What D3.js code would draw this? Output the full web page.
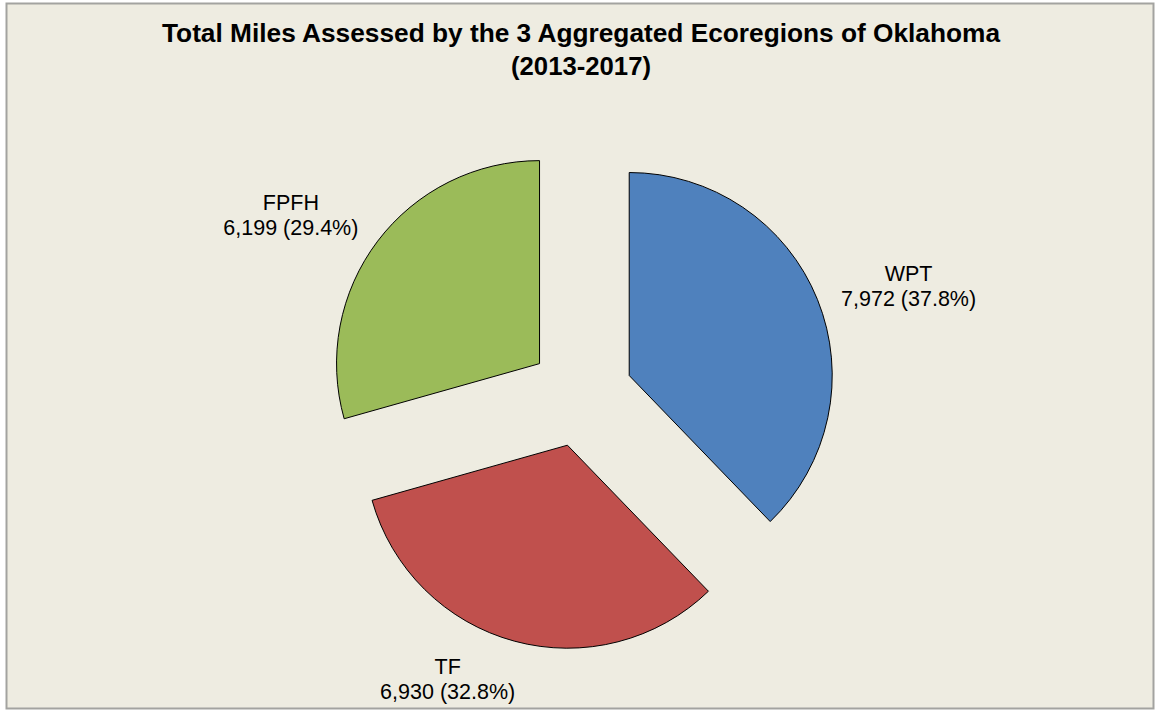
<!DOCTYPE html>
<html>
<head>
<meta charset="utf-8">
<script src="https://cdn.jsdelivr.net/npm/d3@7"></script>
<style>
  html, body { margin: 0; padding: 0; background: #ffffff; }
  svg { display: block; }
  text { font-family: "Liberation Sans", Arial, sans-serif; fill: #000; }
</style>
</head>
<body>
<svg id="chart" width="1155" height="710"></svg>
<script>
// ---- Data ----
const categories = ["WPT", "TF", "FPFH"];
const values = [7972, 6930, 6199];
const colors = ["#4F81BD", "#C0504D", "#9BBB59"];
const titleLines = ["Total Miles Assessed by the 3 Aggregated Ecoregions of Oklahoma", "(2013-2017)"];

// ---- Layout ----
const W = 1155, H = 710;
const cx = 581, cy = 395, radius = 203, explode = 52, labelGap = 20;
const labelNudge = [[10, 2], [-44, -7], [-17, 0]];

const svg = d3.select("#chart");

svg.append("rect")
  .attr("x", 6.5).attr("y", 3.5)
  .attr("width", 1147).attr("height", 705)
  .attr("fill", "#EEECE1")
  .attr("stroke", "#A3A3A0")
  .attr("stroke-width", 2);

// title
const title = svg.append("text")
  .attr("text-anchor", "middle")
  .attr("font-weight", "bold")
  .attr("font-size", 26.5);
title.append("tspan").attr("x", cx).attr("y", 42)
  .attr("textLength", 838).attr("lengthAdjust", "spacingAndGlyphs")
  .text(titleLines[0]);
title.append("tspan").attr("x", cx).attr("y", 75)
  .attr("textLength", 140).attr("lengthAdjust", "spacingAndGlyphs")
  .text(titleLines[1]);

const total = d3.sum(values);
const pie = d3.pie().sort(null).value(d => d)(values);
const arc = d3.arc().innerRadius(0).outerRadius(radius);
const fmt = d3.format(",");

const g = svg.append("g").attr("transform", `translate(${cx},${cy})`);

pie.forEach((p, i) => {
  const mid = (p.startAngle + p.endAngle) / 2;
  const dx = Math.sin(mid), dy = -Math.cos(mid);
  g.append("path")
    .attr("d", arc(p))
    .attr("transform", `translate(${dx * explode},${dy * explode})`)
    .attr("fill", colors[i])
    .attr("stroke", "#000")
    .attr("stroke-width", 1);

  const pct = (values[i] / total * 100).toFixed(1);
  const lab = g.append("text")
    .attr("text-anchor", "middle")
    .attr("font-size", 21.5);
  const t1 = lab.append("tspan").text(categories[i]);
  const t2 = lab.append("tspan").text(`${fmt(values[i])} (${pct}%)`);
  const w = Math.max(t1.node().getComputedTextLength(), t2.node().getComputedTextLength());
  const h = 50;
  const rr = explode + radius + labelGap;
  const bx = dx * rr + dx * w / 2 + labelNudge[i][0];
  const by = dy * rr + dy * h / 2 + labelNudge[i][1];
  t1.attr("x", bx).attr("y", by - 4);
  t2.attr("x", bx).attr("y", by + 21);
});
</script>
</body>
</html>
